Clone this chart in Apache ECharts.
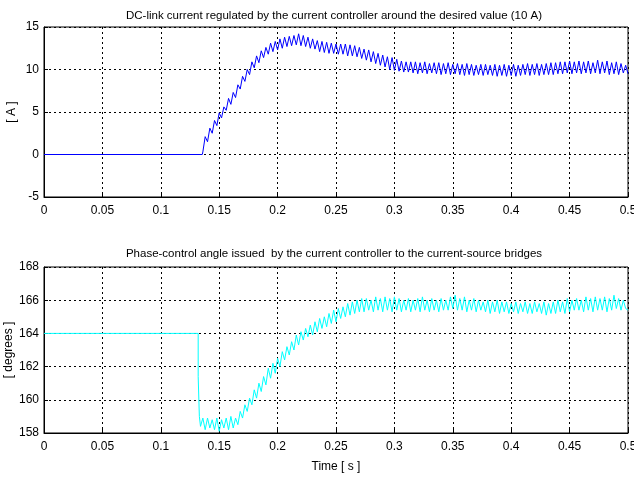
<!DOCTYPE html>
<html>
<head>
<meta charset="utf-8">
<title>DC-link current and phase-control angle</title>
<script src="https://cdn.jsdelivr.net/npm/echarts@6/dist/echarts.min.js"></script>
<style>
  html, body { margin: 0; padding: 0; background: #fff; }
  #chart { width: 634px; height: 477px; }
</style>
</head>
<body>
<div id="chart"></div>
<script>
// x ticks shared by both panels
const timeTicks = [0, 0.05, 0.1, 0.15, 0.2, 0.25, 0.3, 0.35, 0.4, 0.45, 0.5]

// samples after the controller kicks in (one every 2 ms from 0.136 s)
const sampleStart = 0.136
const sampleStep = 0.002

// DC-link current [A] before start
const currentHeadTime = [0, 0.1355]
const currentHead = [0, 0]
// DC-link current [A], sampled
const current = [
  0.3, 2.1, 1.5, 3.1, 2.5, 4.0, 3.4, 4.9, 4.3, 5.6,
  5.2, 6.6, 5.9, 7.3, 6.7, 8.2, 7.7, 9.2, 8.6, 10.0,
  9.4, 10.9, 10.2, 11.6, 10.8, 12.2, 11.4, 12.6, 11.8, 13.1,
  12.1, 13.3, 12.3, 13.6, 12.5, 13.8, 12.7, 13.9, 12.8, 14.0,
  12.9, 14.2, 12.8, 14.0, 12.7, 13.8, 12.5, 13.6, 12.4, 13.4,
  12.1, 13.3, 12.0, 13.2, 11.9, 13.1, 11.9, 13.0, 11.8, 13.0,
  11.8, 13.0, 11.6, 12.9, 11.6, 12.8, 11.5, 12.6, 11.3, 12.4,
  11.1, 12.3, 10.9, 12.1, 10.7, 11.9, 10.5, 11.7, 10.3, 11.5,
  10.0, 11.4, 9.9, 11.2, 9.8, 11.0, 9.7, 10.9, 9.7, 10.9,
  9.6, 10.9, 9.5, 10.8, 9.6, 10.9, 9.5, 10.7, 9.6, 10.8,
  9.5, 10.8, 9.4, 10.7, 9.5, 10.8, 9.4, 10.6, 9.5, 10.7,
  9.4, 10.6, 9.3, 10.7, 9.4, 10.6, 9.3, 10.5, 9.4, 10.6,
  9.3, 10.6, 9.4, 10.5, 9.3, 10.6, 9.2, 10.5, 9.3, 10.6,
  9.2, 10.5, 9.3, 10.6, 9.2, 10.5, 9.3, 10.6, 9.4, 10.7,
  9.3, 10.6, 9.4, 10.7, 9.3, 10.6, 9.4, 10.7, 9.4, 10.8,
  9.4, 10.8, 9.5, 10.9, 9.5, 10.9, 9.6, 11.0, 9.5, 10.9,
  9.6, 11.0, 9.5, 10.9, 9.6, 11.0, 9.5, 10.8, 9.6, 11.1,
  9.5, 10.9, 9.6, 11.0, 9.4, 10.8, 9.5, 10.9, 9.4, 10.7,
  9.6, 10.5, 9.5
]

// phase-control angle [deg] before start, incl. the step down
const angleHeadTime = [0, 0.132, 0.132, 0.133, 0.133, 0.134]
const angleHead = [164, 164, 161.4, 161.4, 159, 158.4]
// phase-control angle [deg], sampled
const angle = [
  158.9, 158.2, 158.9, 158.3, 158.8, 158.2, 158.9, 158.1, 158.8, 158.3,
  158.9, 158.2, 159.0, 158.3, 158.9, 158.5, 159.3, 158.9, 159.7, 159.3,
  160.1, 159.7, 160.6, 160.1, 161.0, 160.5, 161.4, 160.9, 161.9, 161.3,
  162.2, 161.6, 162.5, 162.0, 162.9, 162.4, 163.2, 162.7, 163.5, 163.0,
  163.9, 163.3, 164.1, 163.6, 164.3, 163.8, 164.5, 163.9, 164.7, 164.1,
  164.9, 164.3, 165.0, 164.4, 165.2, 164.6, 165.4, 164.7, 165.5, 164.9,
  165.6, 165.0, 165.8, 165.1, 165.9, 165.2, 166.0, 165.3, 166.1, 165.3,
  166.1, 165.4, 166.0, 165.3, 166.2, 165.4, 166.1, 165.3, 166.2, 165.4,
  166.1, 165.3, 166.2, 165.4, 166.1, 165.3, 166.0, 165.4, 166.1, 165.3,
  166.0, 165.4, 166.1, 165.3, 166.2, 165.4, 166.0, 165.3, 166.1, 165.4,
  166.0, 165.3, 166.1, 165.4, 166.0, 165.4, 166.2, 165.5, 166.3, 165.4,
  166.1, 165.4, 166.2, 165.3, 166.0, 165.4, 166.1, 165.3, 166.0, 165.4,
  165.9, 165.3, 166.0, 165.2, 165.9, 165.3, 166.0, 165.2, 165.9, 165.3,
  165.9, 165.2, 165.8, 165.3, 165.9, 165.2, 165.8, 165.3, 165.9, 165.2,
  165.8, 165.2, 165.9, 165.3, 165.8, 165.2, 165.9, 165.1, 165.8, 165.2,
  165.9, 165.2, 166.0, 165.3, 165.9, 165.2, 166.1, 165.3, 166.0, 165.4,
  166.1, 165.4, 166.0, 165.3, 166.2, 165.4, 166.1, 165.3, 166.2, 165.4,
  166.1, 165.4, 166.2, 165.3, 166.1, 165.4, 166.3, 165.5, 166.1, 165.4,
  166.0, 165.5, 165.4
]

const currentTicks = [-5, 0, 5, 10, 15]
const angleTicks = [158, 160, 162, 164, 166, 168]

function toPairs(headT, headV, values) {
  const out = headT.map((t, i) => [t, headV[i]])
  values.forEach((v, i) => {
    out.push([+(sampleStart + i * sampleStep).toFixed(4), v])
  })
  return out
}

const font = 'Liberation Sans'
const gridLine = { show: true, lineStyle: { color: '#000', type: [2, 3], width: 1 } }

function xAxis(gridIndex, name) {
  return {
    type: 'value',
    gridIndex,
    min: timeTicks[0],
    max: timeTicks[timeTicks.length - 1],
    interval: 0.05,
    name,
    nameLocation: 'middle',
    nameGap: 28,
    nameMoveOverlap: false,
    nameTextStyle: { color: '#000', fontFamily: font, fontSize: 12 },
    axisLine: { onZero: false, lineStyle: { color: '#000' } },
    axisTick: { inside: true, length: 4, lineStyle: { color: '#000' } },
    axisLabel: { color: '#000', fontFamily: font, fontSize: 12, margin: 8 },
    splitLine: gridLine
  }
}

function yAxis(gridIndex, ticks, name, gap) {
  return {
    type: 'value',
    gridIndex,
    min: ticks[0],
    max: ticks[ticks.length - 1],
    interval: ticks[1] - ticks[0],
    name,
    nameLocation: 'middle',
    nameGap: gap,
    nameMoveOverlap: false,
    nameTextStyle: { color: '#000', fontFamily: font, fontSize: 12 },
    axisLine: { onZero: false, lineStyle: { color: '#000' } },
    axisTick: { inside: true, length: 4, lineStyle: { color: '#000' } },
    axisLabel: { color: '#000', fontFamily: font, fontSize: 12, margin: 5 },
    splitLine: gridLine
  }
}

const chart = echarts.init(document.getElementById('chart'), null, { renderer: 'canvas' })
chart.setOption({
  animation: false,
  backgroundColor: '#fff',
  title: [
    {
      text: 'DC-link current regulated by the current controller around the desired value (10 A)',
      left: 329, top: 5, textAlign: 'center',
      textStyle: { color: '#000', fontFamily: font, fontSize: 11.5, fontWeight: 'normal' }
    },
    {
      text: 'Phase-control angle issued  by the current controller to the current-source bridges',
      left: 329, top: 243, textAlign: 'center',
      textStyle: { color: '#000', fontFamily: font, fontSize: 11.5, fontWeight: 'normal' }
    }
  ],
  grid: [
    { left: 44, right: 6, top: 27, height: 170, containLabel: false, outerBoundsMode: 'none', show: true, borderColor: '#000', borderWidth: 1, backgroundColor: '#fff' },
    { left: 44, right: 6, top: 267, height: 166, containLabel: false, outerBoundsMode: 'none', show: true, borderColor: '#000', borderWidth: 1, backgroundColor: '#fff' }
  ],
  xAxis: [xAxis(0, ''), xAxis(1, 'Time [ s ]')],
  yAxis: [yAxis(0, currentTicks, '[ A ]', 26), yAxis(1, angleTicks, '[ degrees ]', 29)],
  series: [
    {
      type: 'line',
      xAxisIndex: 0,
      yAxisIndex: 0,
      showSymbol: false,
      lineStyle: { color: '#0000ff', width: 1 },
      itemStyle: { color: '#0000ff' },
      data: toPairs(currentHeadTime, currentHead, current)
    },
    {
      type: 'line',
      xAxisIndex: 1,
      yAxisIndex: 1,
      showSymbol: false,
      lineStyle: { color: '#00ffff', width: 1 },
      itemStyle: { color: '#00ffff' },
      data: toPairs(angleHeadTime, angleHead, angle)
    }
  ]
})
</script>
</body>
</html>
